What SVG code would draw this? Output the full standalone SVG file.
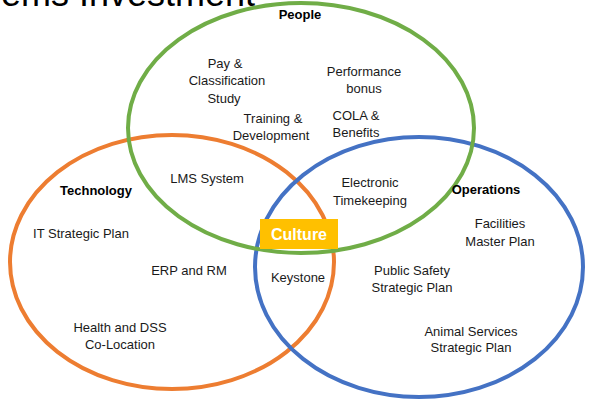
<svg xmlns="http://www.w3.org/2000/svg" width="589" height="405" viewBox="0 0 589 405">
<style>
.c{fill:none;stroke-width:4}
.t{font-family:"Liberation Sans",Arial,sans-serif;font-size:13px;fill:#1a1a1a;text-anchor:middle}
.b{font-weight:bold;fill:#000}
</style>
<rect width="589" height="405" fill="#fff"/>
<text x="255" y="6" font-family="Liberation Sans,Arial,sans-serif" font-size="36" fill="#000" text-anchor="end">ems Investment</text>
<g id="technology">
<ellipse class="c" cx="172" cy="262" rx="162" ry="127" stroke="#ED7D31"/>
</g>
<g id="operations">
<ellipse class="c" cx="419" cy="267" rx="164" ry="130" stroke="#4472C4"/>
</g>
<g id="people">
<ellipse class="c" cx="301" cy="128" rx="173" ry="125" stroke="#70AD47"/>
</g>
<g id="labels">
<text class="t b" x="300" y="19">People</text>
<text class="t" x="225" y="68">Pay &amp;</text>
<text class="t" x="227" y="85">Classification</text>
<text class="t" x="224" y="103">Study</text>
<text class="t" x="364" y="76">Performance</text>
<text class="t" x="364" y="93">bonus</text>
<text class="t" x="273" y="123">Training &amp;</text>
<text class="t" x="271" y="140">Development</text>
<text class="t" x="356" y="120">COLA &amp;</text>
<text class="t" x="356" y="137">Benefits</text>
<text class="t b" x="96" y="195">Technology</text>
<text class="t" x="207" y="183">LMS System</text>
<text class="t" x="81" y="238">IT Strategic Plan</text>
<text class="t" x="189" y="275">ERP and RM</text>
<text class="t" x="120" y="332">Health and DSS</text>
<text class="t" x="120" y="349">Co-Location</text>
<text class="t" x="298" y="282">Keystone</text>
<text class="t" x="370" y="187">Electronic</text>
<text class="t" x="370" y="205">Timekeeping</text>
<text class="t b" x="486" y="194">Operations</text>
<text class="t" x="500" y="228">Facilities</text>
<text class="t" x="500" y="246">Master Plan</text>
<text class="t" x="412" y="275">Public Safety</text>
<text class="t" x="412" y="292">Strategic Plan</text>
<text class="t" x="471" y="336">Animal Services</text>
<text class="t" x="471" y="352">Strategic Plan</text>
</g>
<g id="culture">
<rect x="260" y="219" width="78" height="30" fill="#FFC000"/>
<text x="299" y="240" font-family="Liberation Sans,Arial,sans-serif" font-size="16" font-weight="bold" fill="#fff" text-anchor="middle">Culture</text>
</g>
</svg>
